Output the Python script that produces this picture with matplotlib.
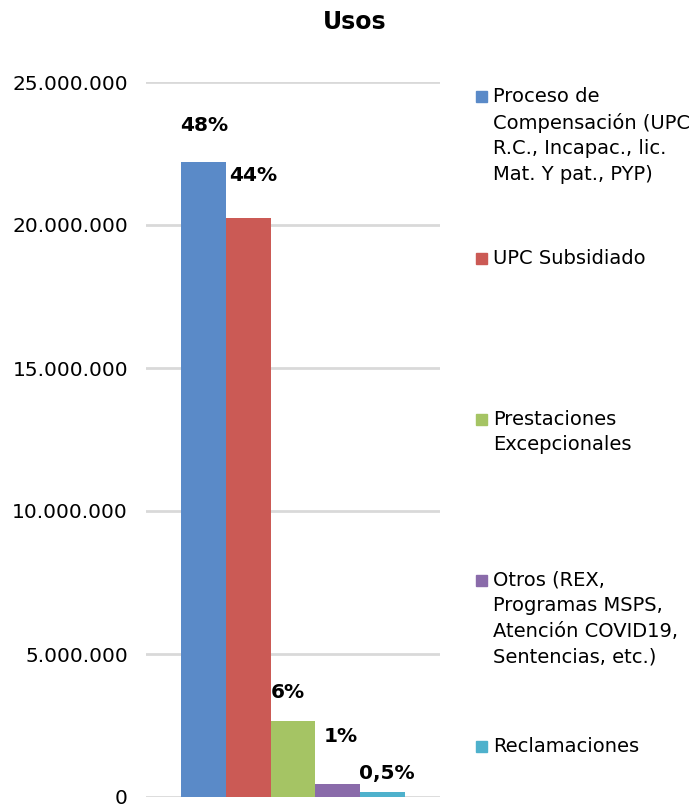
import matplotlib.pyplot as plt
from matplotlib.patches import Rectangle
from matplotlib.ticker import FuncFormatter

# data
categories = [
    "Proceso de\nCompensación (UPC\nR.C., Incapac., lic.\nMat. Y pat., PYP)",
    "UPC Subsidiado",
    "Prestaciones\nExcepcionales",
    "Otros (REX,\nProgramas MSPS,\nAtención COVID19,\nSentencias, etc.)",
    "Reclamaciones",
]
values = [22200000, 20250000, 2670000, 460000, 170000]
pct_labels = ["48%", "44%", "6%", "1%", "0,5%"]
colors = ["#5A8AC8", "#CB5A55", "#A5C464", "#8A6BAA", "#4EB1CC"]

# label offsets above each bar (pixels), as placed in the original
label_dx = [1, 5, -5, 3, 4]
label_dy = [37, 42, 28, 47, 19]

fig = plt.figure(figsize=(7, 8.09), dpi=100)
ax = fig.add_axes([146 / 700, 12 / 809, 294 / 700, 715 / 809])

x = list(range(len(values)))
bars = ax.bar(x, values, width=1.0, color=colors, zorder=3)

for i, b in enumerate(bars):
    ax.annotate(pct_labels[i], (b.get_x() + b.get_width() / 2, b.get_height()),
                xytext=(label_dx[i], label_dy[i]), textcoords="offset pixels",
                ha="center", va="center", fontsize=14.5, fontweight="bold", zorder=4)

ax.set_xlim(-1.267, 5.267)
ax.set_ylim(0, 25000000)
ax.set_yticks(range(0, 25000001, 5000000))
ax.yaxis.set_major_formatter(FuncFormatter(lambda v, p: f"{int(v):,}".replace(",", ".")))
ax.set_xticks([])
ax.tick_params(axis="y", length=0, pad=13, labelsize=14.5)
ax.grid(axis="y", color="#d9d9d9", linewidth=2, zorder=0)
for s in ax.spines.values():
    s.set_visible(False)

fig.text(355 / 700, 1 - 22 / 809, "Usos", ha="center", va="center",
         fontsize=17, fontweight="bold")

# legend drawn by hand to match the spacing
legend_y = [97, 259, 420, 581, 747]
for i, lab in enumerate(categories):
    yy = 1 - legend_y[i] / 809
    fig.patches.append(Rectangle((476 / 700, yy - 5 / 809), 11 / 700, 11 / 809,
                                 transform=fig.transFigure, color=colors[i]))
    fig.text(493 / 700, yy + 10 / 809, lab, ha="left", va="top", fontsize=14,
             linespacing=1.43)

fig.savefig("out.png", dpi=100)
